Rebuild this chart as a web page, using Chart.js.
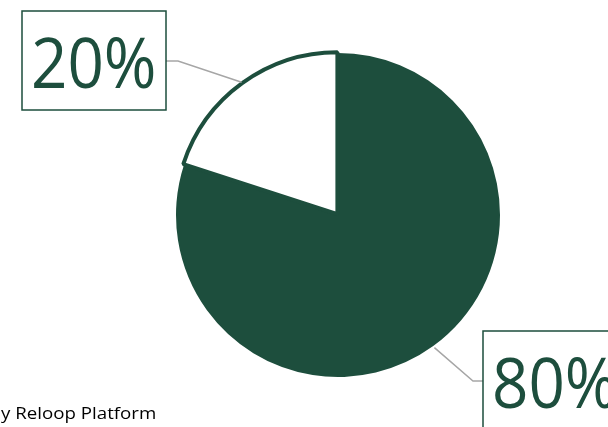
<!DOCTYPE html>
<html>
<head>
<meta charset="utf-8">
<script src="https://cdn.jsdelivr.net/npm/chart.js@4"></script>
<style>
  html, body { margin: 0; padding: 0; background: #fff; }
  #wrap { width: 608px; height: 427px; position: relative; }
</style>
</head>
<body>
<div id="wrap"><canvas id="grafico"></canvas></div>
<script>
const categories = ['Yes', 'No'];
const shares = [80, 20];
const labels = ['80%', '20%'];
const footer = 'y Reloop Platform';

const green = '#1d4e3d';

// label boxes with leader lines (box x, y, w, h; elbow point)
const boxes = [
  { x: 483, y: 331, w: 140, h: 100, elbow: [473, 381], side: 'left' },
  { x: 22, y: 11, w: 144, h: 99, elbow: [178, 61], side: 'right' }
];

const labelPlugin = {
  id: 'labelBoxes',
  afterDatasetsDraw(chart) {
    const ctx = chart.ctx;
    const arcs = chart.getDatasetMeta(0).data;
    arcs.forEach((arc, i) => {
      const b = boxes[i];
      const mid = (arc.startAngle + arc.endAngle) / 2;
      const r = arc.outerRadius + 2;
      const sx = arc.x + Math.cos(mid) * r;
      const sy = arc.y + Math.sin(mid) * r;
      const ex = b.side === 'left' ? b.x : b.x + b.w;
      ctx.save();
      ctx.strokeStyle = '#a6a6a6';
      ctx.lineWidth = 1.5;
      ctx.beginPath();
      ctx.moveTo(sx, sy);
      ctx.lineTo(b.elbow[0], b.elbow[1]);
      ctx.lineTo(ex, b.elbow[1]);
      ctx.stroke();
      ctx.fillStyle = '#fff';
      ctx.fillRect(b.x, b.y, b.w, b.h);
      ctx.strokeStyle = green;
      ctx.lineWidth = 1.5;
      ctx.strokeRect(b.x, b.y, b.w, b.h);
      ctx.fillStyle = green;
      ctx.font = '70px "Open Sans", sans-serif';
      ctx.textBaseline = 'alphabetic';
      ctx.translate(b.x + 9, b.y + 77);
      ctx.scale(0.91, 1);
      ctx.fillText(labels[i], 0, 0);
      ctx.restore();
    });
    ctx.save();
    ctx.fillStyle = '#000';
    ctx.font = '17px "Open Sans", sans-serif';
    ctx.textBaseline = 'alphabetic';
    ctx.translate(1, 419);
    ctx.scale(1.1, 1);
    ctx.fillText(footer, 0, 0);
    ctx.restore();
  }
};

new Chart(document.getElementById('grafico'), {
  type: 'pie',
  data: {
    labels: categories,
    datasets: [{
      data: shares,
      backgroundColor: [green, '#ffffff'],
      borderColor: [green, green],
      borderWidth: [0, 4],
      offset: [0, 4]
    }]
  },
  options: {
    responsive: true,
    maintainAspectRatio: false,
    animation: false,
    layout: { padding: { left: 172, right: 104, top: 49, bottom: 46 } },
    plugins: {
      legend: { display: false },
      tooltip: { enabled: false }
    }
  },
  plugins: [labelPlugin]
});
</script>
</body>
</html>
